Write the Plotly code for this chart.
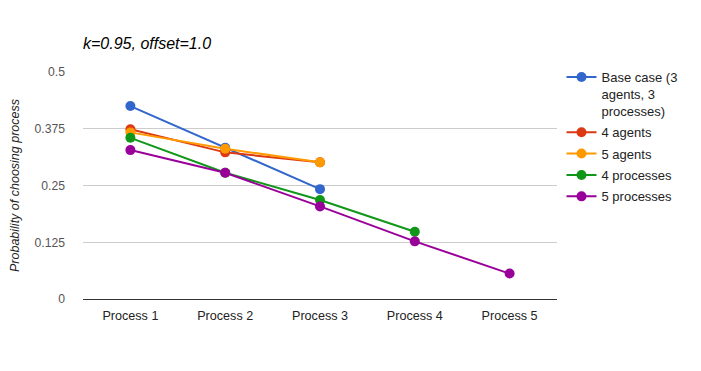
import plotly.graph_objects as go

processes = ["Process 1", "Process 2", "Process 3", "Process 4", "Process 5"]

base_case = [0.425, 0.333, 0.242]
agents_4 = [0.374, 0.323, 0.301]
agents_5 = [0.367, 0.331, 0.301]
processes_4 = [0.355, 0.278, 0.218, 0.148]
processes_5 = [0.328, 0.278, 0.204, 0.127, 0.056]

series = [
    ("Base case (3<br>agents, 3<br>processes)", base_case, "#3366cc"),
    ("4 agents", agents_4, "#dc3912"),
    ("5 agents", agents_5, "#ff9900"),
    ("4 processes", processes_4, "#109618"),
    ("5 processes", processes_5, "#990099"),
]

y_ticks = [0, 0.125, 0.25, 0.375, 0.5]
y_labels = ["0", "0.125", "0.25", "0.375", "0.5"]

fig = go.Figure()
for i, (name, vals, color) in enumerate(series):
    fig.add_trace(go.Scatter(
        x=processes[:len(vals)], y=vals, name=name,
        legendgroup=f"g{i}",
        mode="lines+markers",
        line=dict(color=color, width=2),
        marker=dict(color=color, size=10),
    ))

# page body has an 8px margin, so margins are shifted by 8px
fig.update_layout(
    width=701, height=371,
    margin=dict(l=75, r=152, t=64, b=80),
    paper_bgcolor="white", plot_bgcolor="white",
    font=dict(family="Liberation Sans, Arial", size=13, color="#222"),
    title=dict(text="<i>k=0.95, offset=1.0</i>", x=75 / 701, xanchor="left",
               y=1 - 35 / 371, yanchor="middle",
               font=dict(size=16, color="#000")),
    xaxis=dict(categoryorder="array", categoryarray=processes,
               range=[-0.5, 4.5], showgrid=False, showline=False, zeroline=False,
               ticks="", automargin=False, ticklabelstandoff=7,
               tickfont=dict(size=12.6, color="#222")),
    yaxis=dict(range=[0, 0.5], tickvals=y_ticks, ticktext=y_labels,
               showgrid=True, gridcolor="#cccccc", gridwidth=1,
               zeroline=True, zerolinecolor="#333333", zerolinewidth=1,
               showline=False, ticks="", ticklabelstandoff=17, automargin=False,
               tickfont=dict(size=12.2, color="#555"),
               title=dict(text="<i>Probability of choosing process</i>",
                          font=dict(size=12.5, color="#222"))),
    legend=dict(x=1.0095, y=1.044, xanchor="left", yanchor="top", valign="top",
                traceorder="grouped", tracegroupgap=1.5,
                font=dict(size=13, color="#222")),
    showlegend=True,
)

fig.write_html("out.html")
